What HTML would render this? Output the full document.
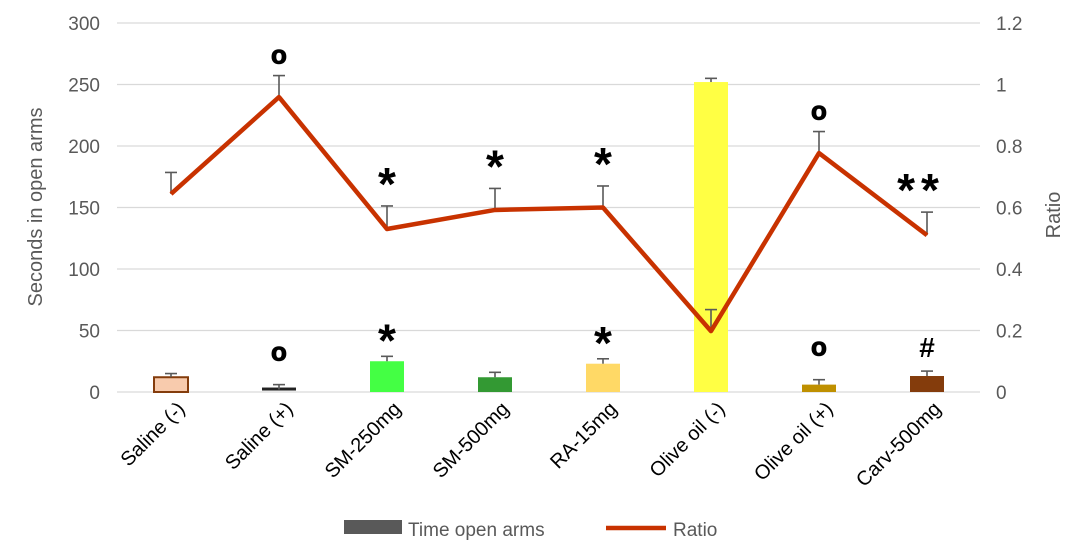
<!DOCTYPE html>
<html><head><meta charset="utf-8"><style>
body{margin:0;background:#fff;}
svg text{font-family:"Liberation Sans",sans-serif;}
</style></head><body>
<svg id="chart" width="1081" height="545" viewBox="0 0 1081 545"></svg>
<script>
const categories=["Saline (-)","Saline (+)","SM-250mg","SM-500mg","RA-15mg","Olive oil (-)","Olive oil (+)","Carv-500mg"];
const timeValues=[12,2,25,12,23,252,6,13];
const timeErrors=[3,4,4,4,4,3,4,4];
const ratioValues=[0.644,0.959,0.53,0.592,0.60,0.198,0.777,0.51];
const ratioErrors=[0.07,0.07,0.075,0.07,0.07,0.07,0.07,0.075];
const barColors=["#f8cbad","#222222","#44ff44","#339933","#ffd966","#ffff44","#bf9000","#843c0c"];
const leftTicks=[0,50,100,150,200,250,300];
const rightTicks=["0","0.2","0.4","0.6","0.8","1","1.2"];
const ratioMarks=["","o","*","*","*","","o","**"];
const barMarks=["","o","*","","*","","o","#"];
const NS="http://www.w3.org/2000/svg";
const svg=document.getElementById('chart');
function el(t,a,p){const e=document.createElementNS(NS,t);for(const k in a)e.setAttribute(k,a[k]);(p||svg).appendChild(e);return e;}
const y0=392,y1=23;
const yL=v=>y0-(v/300)*(y0-y1);
const yR=v=>y0-(v/1.2)*(y0-y1);
const xC=i=>171+i*108;
leftTicks.forEach((t,i)=>{
 const g=el('line',{x1:117,x2:980,y1:yL(t),y2:yL(t),stroke:'#d9d9d9','stroke-width':1.3});
 
 const lt=el('text',{x:100,y:yL(t)+7,'text-anchor':'end','font-size':19,fill:'#595959'});lt.textContent=t;
 
 const rt=el('text',{x:996,y:yR(i*0.2)+7,'font-size':19,fill:'#595959'});rt.textContent=rightTicks[i];
 
});
function errBar(x,yb,yt,name){
 const g=el('g',{stroke:'#595959','stroke-width':1.6});
 
 el('line',{x1:x,x2:x,y1:yb,y2:yt},g);el('line',{x1:x-6,x2:x+6,y1:yt,y2:yt},g);
}
function mark(s,x,yt,name){
 let m;
 if(s=='o'){m=el('text',{x:x,y:yt-12,'text-anchor':'middle','font-size':26,'font-weight':'bold',fill:'#000',stroke:'#000','stroke-width':1});}
 else if(s=='#'){m=el('text',{x:x,y:yt-10,'text-anchor':'middle','font-size':28,'font-weight':'bold',fill:'#000'});}
 else {m=el('text',{x:x,y:yt+4,'text-anchor':'middle','font-size':46,'font-weight':'bold',fill:'#000','letter-spacing':s.length>1?6:0});}
 m.textContent=s;
 
}
categories.forEach((c,i)=>{
 const x=xC(i),h=y0-yL(timeValues[i]);
 const r=el('rect',{x:x-17,y:yL(timeValues[i])-(i==1?2:0),width:34,height:Math.max(h,3),fill:barColors[i],stroke:i==0?'#843c0c':'none','stroke-width':2});
 
 errBar(x,yL(timeValues[i]),yL(timeValues[i]+timeErrors[i]),'bar-error');
 const lb=el('text',{x:x+15,y:410,'text-anchor':'end','font-size':20,fill:'#000',transform:`rotate(-45 ${x+15} 410)`});lb.textContent=c;
 
 if(barMarks[i])mark(barMarks[i],x,yL(timeValues[i]+timeErrors[i])-(barMarks[i]=='o'?12:4),'bar-significance');
});
ratioValues.forEach((v,i)=>errBar(xC(i),yR(v),yR(v+ratioErrors[i]),'ratio-error'));
const line=el('polyline',{points:ratioValues.map((v,i)=>xC(i)+','+yR(v)).join(' '),fill:'none',stroke:'#c83200','stroke-width':4.5,'stroke-linejoin':'round'});

ratioValues.forEach((v,i)=>{if(ratioMarks[i])mark(ratioMarks[i],xC(i)+(i==7?-6:0),yR(v+ratioErrors[i])-(ratioMarks[i]=='o'?0:10),'ratio-significance');});
const yt=el('text',{x:42,y:207,'text-anchor':'middle','font-size':20,fill:'#595959',transform:'rotate(-90 42 207)'});yt.textContent='Seconds in open arms';

const rt2=el('text',{x:1060,y:215,'text-anchor':'middle','font-size':20,fill:'#595959',transform:'rotate(-90 1060 215)'});rt2.textContent='Ratio';

const lg=el('g',{});
el('rect',{x:344,y:520,width:58,height:14,fill:'#595959'},lg);
const l1=el('text',{x:408,y:536,'font-size':19,fill:'#595959'},lg);l1.textContent='Time open arms';
el('line',{x1:606,x2:666,y1:528,y2:528,stroke:'#c83200','stroke-width':4.5},lg);
const l2=el('text',{x:673,y:536,'font-size':19,fill:'#595959'},lg);l2.textContent='Ratio';
</script>
</body></html>
